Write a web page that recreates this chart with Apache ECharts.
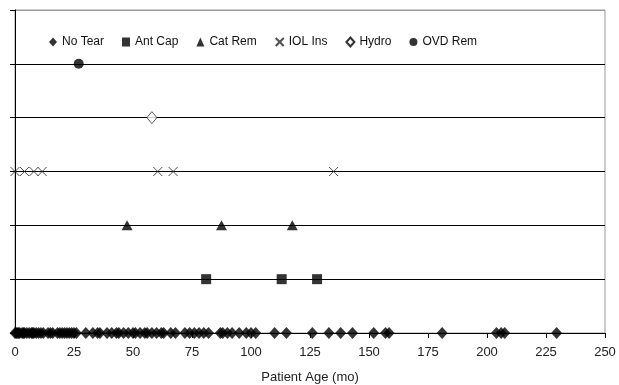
<!DOCTYPE html>
<html>
<head>
<meta charset="utf-8">
<title>demo</title>
<script src="https://cdn.jsdelivr.net/npm/echarts@6/dist/echarts.min.js"></script>
<style>
html, body { margin: 0; padding: 0; background: #fff; }
#echarts { width: 619px; height: 385px; }
</style>
</head>
<body>
<div id="echarts"></div>
<script>
// patient ages (months) for each outcome row
var noTear = [0, 0.5, 1, 1.5, 2, 3, 3.5, 4, 5, 6, 7, 7.5, 8, 9, 10, 11, 12,
    14, 15, 16, 18, 19, 20, 21, 22, 23, 24, 25, 26, 30,
    33, 35, 36, 39, 41, 43, 44, 46, 48, 50, 51, 53, 55, 56, 58, 60, 62, 63, 66, 68,
    72, 74, 76, 78, 80, 82, 87, 88, 90, 92, 95, 98, 100, 102,
    110, 115, 126, 133, 138, 143, 152, 157, 158.5, 181, 204, 206, 207.5, 229.5];
var antCap = [81, 113, 128];
var catRem = [47.5, 87.5, 117.5];
var iolIns = [0, 4, 8, 11.5, 60.5, 67, 135];
var hydro = [58];
var ovdRem = [27];

var names = ['No Tear', 'Ant Cap', 'Cat Rem', 'IOL Ins', 'Hydro', 'OVD Rem'];
var xTicks = [0, 25, 50, 75, 100, 125, 150, 175, 200, 225, 250];

function row(list, level) {
    var out = [];
    for (var i = 0; i < list.length; i++) {
        out.push([list[i], level]);
    }
    return out;
}

var myChart = echarts.init(document.getElementById('echarts'));
var option = {
    animation: false,
    textStyle: { fontFamily: 'Liberation Sans, Arial, sans-serif' },
    grid: {
        left: 15, right: 14, top: 10, bottom: 52,
        outerBoundsMode: 'none',
        containLabel: false,
        show: true, borderColor: '#999', borderWidth: 1
    },
    legend: {
        data: names,
        left: 44, top: 31,
        itemWidth: 8, itemHeight: 9, itemGap: 18,
        textStyle: { fontSize: 12, color: '#111' }
    },
    xAxis: {
        type: 'value',
        min: xTicks[0], max: xTicks[xTicks.length - 1], interval: 25,
        name: 'Patient Age (mo)',
        nameLocation: 'middle',
        nameGap: 38,
        nameTextStyle: { fontSize: 13, color: '#222' },
        axisLine: { lineStyle: { color: '#000' } },
        axisTick: { show: true, length: 5, lineStyle: { color: '#000' } },
        axisLabel: { fontSize: 13, color: '#222', margin: 13 },
        splitLine: { show: false }
    },
    yAxis: {
        type: 'value',
        min: 0, max: 6, interval: 1,
        axisLine: { show: true, lineStyle: { color: '#000' } },
        axisTick: { show: true, length: 5, lineStyle: { color: '#000' } },
        axisLabel: { show: false },
        splitLine: { show: true, lineStyle: { color: ['#000', '#000', '#000', '#000', '#000', '#000', '#999'], width: 1 } }
    },
    series: [
        { name: 'No Tear', type: 'scatter', symbol: 'diamond', symbolSize: [11, 12],
          itemStyle: { color: '#000' }, data: row(noTear, 0) },
        { name: 'Ant Cap', type: 'scatter', symbol: 'rect', symbolSize: 10,
          itemStyle: { color: '#000' }, data: row(antCap, 1) },
        { name: 'Cat Rem', type: 'scatter', symbol: 'triangle', symbolSize: [11, 10],
          itemStyle: { color: '#000' }, data: row(catRem, 2) },
        { name: 'IOL Ins', type: 'scatter', symbol: 'path://M0,0L10,10M10,0L0,10', symbolSize: 9,
          itemStyle: { color: 'transparent', borderColor: '#222', borderWidth: 1 }, data: row(iolIns, 3) },
        { name: 'Hydro', type: 'scatter', symbol: 'diamond', symbolSize: [10, 12],
          itemStyle: { color: '#fff', borderColor: '#000', borderWidth: 0.8 }, data: row(hydro, 4) },
        { name: 'OVD Rem', type: 'scatter', symbol: 'circle', symbolSize: 10,
          itemStyle: { color: '#000' }, data: row(ovdRem, 5) }
    ]
};
myChart.setOption(option);
</script>
</body>
</html>
